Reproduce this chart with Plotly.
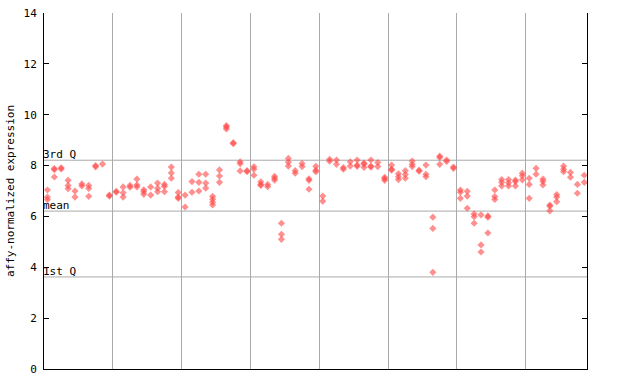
import plotly.graph_objects as go

# expression values per sample column (index = sample order)
sample_values = [
    [7.04, 6.76, 6.66], [7.88, 7.84, 7.55], [7.91, 7.87], [7.42, 7.22, 7.09],
    [7.0, 6.76], [7.28, 7.2], [7.22, 7.1, 6.79], [8.0, 7.95], [8.06],
    [6.84, 6.80], [6.99, 6.95], [7.16, 6.93, 6.76], [7.22, 7.15],
    [7.47, 7.24, 7.16], [7.05, 6.97, 6.87], [7.16, 6.84], [7.31, 7.11, 6.97],
    [7.26, 7.18, 6.97], [7.94, 7.71, 7.5], [6.94, 6.76, 6.71], [6.84, 6.37],
    [7.37, 6.95], [7.66, 7.34, 7.0], [7.66, 7.31, 7.11], [6.79, 6.68, 6.56, 6.45],
    [7.83, 7.59, 7.34], [9.57, 9.52, 9.44], [8.9, 8.86], [8.15, 8.07, 7.79],
    [7.8, 7.76], [7.95, 7.86, 7.62], [7.36, 7.26, 7.22], [7.26, 7.17],
    [7.58, 7.5, 7.43], [5.73, 5.3, 5.1], [8.28, 8.13, 7.98], [7.8, 7.7],
    [8.08, 7.96], [7.48, 7.42, 7.07], [7.97, 7.82, 7.76], [6.8, 6.6],
    [8.25, 8.17], [8.22, 8.05], [7.92, 7.86], [8.15, 7.98], [8.22, 8.02, 7.97],
    [8.1, 8.06, 7.93], [8.22, 7.98, 7.94], [8.12, 7.96], [7.54, 7.48, 7.42],
    [8.02, 7.86, 7.82], [7.68, 7.56, 7.45], [7.8, 7.65, 7.5], [8.18, 8.05, 7.96],
    [7.82, 7.78], [8.02, 7.66, 7.56], [5.97, 5.53, 3.8], [8.37, 8.32, 8.05],
    [8.22, 8.16], [7.94, 7.89], [7.04, 6.95, 6.71], [6.99, 6.8, 6.32],
    [6.1, 5.99, 5.73], [6.06, 4.88, 4.6], [6.02, 5.97, 5.35], [7.04, 6.78, 6.67],
    [7.45, 7.34, 7.2], [7.45, 7.32, 7.2], [7.43, 7.37, 7.2], [7.7, 7.6, 7.44],
    [7.5, 7.26, 6.71], [7.89, 7.66], [7.47, 7.38, 7.24], [6.45, 6.4, 6.22],
    [6.86, 6.76, 6.58], [7.98, 7.86, 7.76], [7.73, 7.54], [7.26, 6.91],
    [7.62, 7.34],
]

# summary reference lines
ref_labels = ["3rd Q", "mean", "1st Q"]
ref_values = [8.21, 6.21, 3.62]

# group separators (every 10 samples)
group_bounds = [9.5, 19.5, 29.5, 39.5, 49.5, 59.5, 69.5]

y_ticks = [0, 2, 4, 6, 8, 10, 12, 14]

xs = [i for i, col in enumerate(sample_values) for _ in col]
ys = [v for col in sample_values for v in col]

MONO = "DejaVu Sans Mono"

fig = go.Figure()
fig.add_trace(go.Scatter(
    x=xs, y=ys, mode="markers",
    marker=dict(symbol="diamond", size=5.5, color="rgba(255,70,70,0.6)",
                line=dict(width=0)),
    hoverinfo="y", showlegend=False,
))

for lab, val in zip(ref_labels, ref_values):
    fig.add_hline(y=val, line=dict(color="#aaaaaa", width=1), layer="below")
    fig.add_annotation(x=0, xref="paper", y=val, yref="y", text=lab,
                       showarrow=False, xanchor="left", yanchor="bottom",
                       yshift=-3, xshift=-3,
                       font=dict(family=MONO, size=11, color="black"))

fig.update_layout(
    width=640, height=384,
    margin=dict(l=44, r=53, t=13, b=15, autoexpand=False),
    plot_bgcolor="white", paper_bgcolor="white",
    font=dict(family=MONO, size=10, color="black"),
)
fig.update_xaxes(
    range=[-0.5, 78.4], tickvals=group_bounds, showticklabels=False,
    showgrid=True, gridcolor="#aaaaaa", gridwidth=1, ticks="",
    showline=True, linecolor="black", linewidth=1, mirror=False,
    zeroline=False, automargin=False,
)
fig.update_yaxes(
    range=[0, 14], tickvals=y_ticks, ticks="inside", ticklen=5,
    tickcolor="black", showgrid=False, zeroline=False,
    showline=True, linecolor="black", linewidth=1, mirror="ticks",
    ticklabelstandoff=4,
    title=dict(text="affy-normalized expression", standoff=6,
               font=dict(family=MONO, size=11)),
    tickfont=dict(family=MONO, size=11), automargin=False,
)

fig.write_html("out.html",
               config={"displayModeBar": False},
               post_script="document.body.style.margin='0';")
